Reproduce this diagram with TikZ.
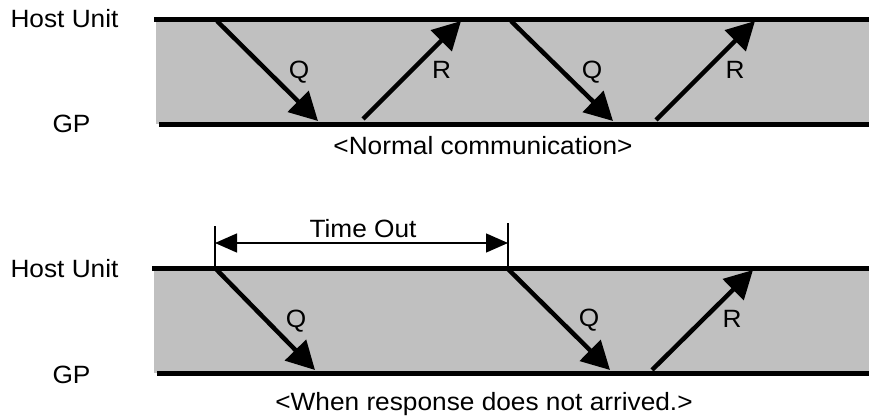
\documentclass[tikz,border=0pt]{standalone}
\usepackage{fontspec}
\setmainfont{Liberation Sans}[FakeStretch=1.05]
\usetikzlibrary{arrows.meta}
\definecolor{bandgray}{RGB}{192,192,192}
\begin{document}
\begin{tikzpicture}[x=1pt,y=-1pt,
  lbl/.style={font=\fontsize{25}{30}\selectfont, anchor=base, inner sep=0pt},
  rail/.style={line width=5pt},
  msg/.style={line width=4.5pt, -{Triangle[length=28pt,width=29pt]}},
  tickline/.style={line width=1.4pt},
  spanarrow/.style={line width=1.4pt, {Triangle[length=22pt,width=19pt]}-{Triangle[length=22pt,width=19pt]}}]
\useasboundingbox (0,0) rectangle (869,417);

% ---------- top: normal communication ----------
\fill[bandgray] (156,20) rectangle (869,124);
\coordinate (h1a) at (154,19.5);  \coordinate (h1b) at (869,19.5);
\coordinate (g1a) at (159,124.5); \coordinate (g1b) at (869,124.5);
\draw[rail] (h1a) -- (h1b);
\draw[rail] (g1a) -- (g1b);
\node[lbl] (host1) at (64.5,28) {Host Unit};
\node[lbl] (gp1) at (71.5,132) {GP};

\coordinate (q1s) at (217,21);  \coordinate (q1e) at (318,121);
\coordinate (r1s) at (363,119); \coordinate (r1e) at (461,21);
\coordinate (q2s) at (511,21);  \coordinate (q2e) at (613,121);
\coordinate (r2s) at (656,120); \coordinate (r2e) at (755,21);
\draw[msg] (q1s) -- (q1e);
\draw[msg] (r1s) -- (r1e);
\draw[msg] (q2s) -- (q2e);
\draw[msg] (r2s) -- (r2e);
\node[lbl] (lq1) at (299,79) {Q};
\node[lbl] (lr1) at (441.5,79) {R};
\node[lbl] (lq2) at (592,79) {Q};
\node[lbl] (lr2) at (735,79) {R};
\node[lbl] (cap1) at (483,154) {<Normal communication>};

% ---------- bottom: time out ----------
\fill[bandgray] (154,268) rectangle (869,373);
\coordinate (h2a) at (152,268); \coordinate (h2b) at (869,268);
\coordinate (g2a) at (157,373.5); \coordinate (g2b) at (869,373.5);
\draw[rail] (h2a) -- (h2b);
\draw[rail] (g2a) -- (g2b);
\node[lbl] (host2) at (64.5,277) {Host Unit};
\node[lbl] (gp2) at (71.5,383) {GP};

\coordinate (t1top) at (215,226); \coordinate (t1bot) at (215,268);
\coordinate (t2top) at (508,223); \coordinate (t2bot) at (508,268);
\draw[tickline] (t1top) -- (t1bot);
\draw[tickline] (t2top) -- (t2bot);
\coordinate (ta) at (215,243); \coordinate (tb) at (508,243);
\draw[spanarrow] (ta) -- (tb);
\node[lbl] (tlabel) at (363,237) {Time Out};

\coordinate (q3s) at (215,268); \coordinate (q3e) at (315,370);
\coordinate (q4s) at (508,269); \coordinate (q4e) at (610,370);
\coordinate (r3s) at (652,370); \coordinate (r3e) at (753,270);
\draw[msg] (q3s) -- (q3e);
\draw[msg] (q4s) -- (q4e);
\draw[msg] (r3s) -- (r3e);
\node[lbl] (lq3) at (296,327) {Q};
\node[lbl] (lq4) at (589,326) {Q};
\node[lbl] (lr3) at (732,327) {R};
\node[lbl] (cap2) at (484,410) {<When response does not arrived.>};
\end{tikzpicture}
\end{document}
